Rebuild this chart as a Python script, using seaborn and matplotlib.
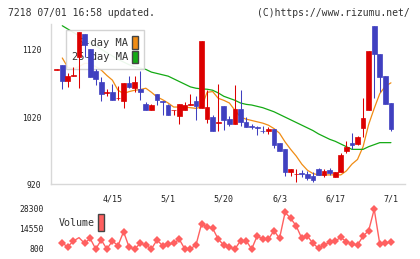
import numpy as np
import seaborn as sns
import matplotlib
matplotlib.use("Agg")
from matplotlib import pyplot as plt
from matplotlib.patches import Patch

# Dados do gráfico (61 pregões)
opens = [1090, 1098, 1074, 1081, 1110, 1144, 1122, 1088, 1073, 1056,
         1058, 1048, 1044, 1071, 1064, 1062, 1040, 1031, 1055, 1044,
         1038, 1030, 1022, 1030, 1038, 1044, 1033, 1017, 1020, 1011,
         1037, 1017, 1010, 1032, 1013, 1007, 1006, 1000, 999, 1003,
         982, 973, 939, 935, 937, 936, 932, 943, 934, 941,
         931, 939, 969, 981, 980, 1004, 1031, 1155, 1114, 1081, 1041]
highs = [1091, 1098, 1085, 1095, 1147, 1144, 1122, 1091, 1080, 1062,
         1069, 1066, 1071, 1081, 1081, 1088, 1043, 1039, 1055, 1044,
         1039, 1031, 1040, 1043, 1055, 1051, 1133, 1060, 1023, 1069,
         1037, 1021, 1068, 1060, 1020, 1010, 1007, 1007, 1005, 1003,
         982, 973, 943, 943, 941, 940, 938, 945, 943, 944,
         938, 966, 985, 997, 992, 1049, 1119, 1155, 1114, 1081, 1041]
lows = [1090, 1062, 1065, 1081, 1064, 1110, 1079, 1068, 1044, 1051,
        1045, 1046, 1034, 1063, 1057, 1046, 1031, 1031, 1038, 1023,
        1023, 1023, 1010, 1030, 1038, 1016, 1033, 1011, 1000, 1000,
        1001, 1007, 1010, 1007, 1005, 1002, 994, 997, 995, 974,
        970, 933, 933, 924, 931, 927, 924, 934, 931, 934,
        931, 939, 967, 972, 979, 991, 1031, 1049, 1058, 1039, 1000]
closes = [1091, 1074, 1081, 1082, 1147, 1127, 1079, 1077, 1055, 1058,
          1045, 1049, 1071, 1065, 1073, 1057, 1031, 1038, 1045, 1042,
          1023, 1031, 1040, 1038, 1039, 1037, 1133, 1035, 1000, 1012,
          1016, 1010, 1032, 1012, 1005, 1005, 1004, 999, 1003, 979,
          970, 939, 943, 936, 936, 929, 927, 934, 940, 937,
          938, 964, 975, 979, 991, 1019, 1118, 1114, 1080, 1039, 1002]

ma5 = [np.nan, 1108, 1094, 1092, 1095, 1100, 1100, 1095, 1090, 1082,
       1075, 1060, 1055, 1058, 1060, 1061, 1063, 1057, 1050, 1046,
       1041, 1035, 1035, 1035, 1034, 1033, 1035, 1057, 1058, 1048,
       1045, 1041, 1030, 1020, 1017, 1015, 1013, 1011, 1008, 1003,
       996, 983, 972, 962, 950, 941, 936, 934, 934, 934,
       934, 934, 940, 950, 957, 976, 1009, 1033, 1055, 1066, 1071]
ma25 = [np.nan, 1156, 1151, 1146, 1141, 1136, 1131, 1126, 1121, 1116,
        1111, 1106, 1102, 1098, 1095, 1093, 1091, 1087, 1085, 1083,
        1081, 1077, 1073, 1069, 1065, 1063, 1062, 1061.5, 1060, 1056,
        1051, 1048, 1045, 1041, 1039, 1038, 1036, 1034, 1031, 1028,
        1024, 1020, 1016, 1012, 1008, 1004, 1000, 995, 991, 987,
        984, 980, 976, 972, 972, 972, 976, 979, 982, 982, 982]

volume = [np.nan, 4700, 2400, 6300, 8600, 4700, 8100, 800, 7000, 800, 6300,
          3100, 12700, 2000, 800, 4700, 3500, 800, 7000, 3100, 4200,
          4700, 7500, 800, 1000, 3500, 18000, 16100, 15000, 7500, 3500,
          2000, 800, 6500, 6500, 800, 9900, 7500, 7500, 13400, 8100,
          26000, 21900, 16600, 8100, 9700, 4700, 1300, 3500, 5400, 6300,
          8800, 5800, 4200, 3500, 9700, 13400, 28100, 4200, 5100, 5400]

date_pos = [10, 20, 30, 40, 50, 60]
date_labels = ["4/15", "5/1", "5/20", "6/3", "6/17", "7/1"]
price_ticks = [920, 1020, 1120]
volume_ticks = [800, 14550, 28300]

# Cores
cor_alta = "#dc0000"
cor_baixa = "#4040c0"
cor_ma5 = "#f08c14"
cor_ma25 = "#14aa14"
cor_vol = "#ff6060"
cor_eixo = "#d8d8d8"
cor_texto = "#222222"

sns.set_style("white")
plt.rcParams['font.family'] = ['DejaVu Sans Mono']

W, H = 420, 259
fig = plt.figure(figsize=(W / 100, H / 100), dpi=100)
x0, x1 = 50.7, 405.3
ax = fig.add_axes([x0 / W, 1 - 184.3 / H, (x1 - x0) / W, (184.3 - 24) / H])
axv = fig.add_axes([x0 / W, 1 - 253 / H, (x1 - x0) / W, 48 / H])

x = np.arange(len(opens))
o = np.array(opens, dtype=float)
c = np.array(closes, dtype=float)
cores = [cor_alta if cc >= oo else cor_baixa for oo, cc in zip(o, c)]

# Candles
ax.vlines(x, lows, highs, colors=cores, linewidth=0.75, zorder=3)
ax.bar(x, np.abs(c - o), bottom=np.minimum(o, c), width=0.85, color=cores,
       edgecolor=cores, linewidth=0.5, zorder=3.5)

# Médias móveis
sns.lineplot(x=x, y=ma5, ax=ax, color=cor_ma5, linewidth=0.9, estimator=None, zorder=2)
sns.lineplot(x=x, y=ma25, ax=ax, color=cor_ma25, linewidth=0.9, estimator=None, zorder=2)

xlim = (-1.08, 62.58)
ax.set_xlim(*xlim)
ax.set_ylim(920, 1158.6)
for s in ["top", "right"]:
    ax.spines[s].set_visible(False)
for s in ["left", "bottom"]:
    ax.spines[s].set_color(cor_eixo)
    ax.spines[s].set_linewidth(1.0)

ax.set_yticks(price_ticks)
ax.set_yticklabels([str(t) for t in price_ticks])
ax.tick_params(axis="y", direction="inout", length=5.8, width=1.0, color=cor_eixo,
               labelsize=5.8, labelcolor=cor_texto, pad=4)
ax.set_xticks(date_pos)
ax.set_xticklabels(date_labels)
ax.set_xticks(np.linspace(xlim[0], xlim[1], 12), minor=True)
ax.tick_params(axis="x", which="major", length=0, labelsize=6, labelcolor=cor_texto, pad=7.5)
ax.tick_params(axis="x", which="minor", direction="inout", length=5.3, width=1.0,
               color=cor_eixo)
ax.set_xlabel("")
ax.set_ylabel("")

leg = ax.legend(handles=[Patch(facecolor=cor_ma5, edgecolor="#444444"),
                         Patch(facecolor=cor_ma25, edgecolor="#444444")],
                labels=["5-day MA", "25-day MA"], markerfirst=False,
                loc="upper left", bbox_to_anchor=((65.7 - x0) / (x1 - x0), 1 - 6 / 160.3),
                borderaxespad=0, fontsize=7.5, handlelength=0.6, handleheight=1.45,
                handletextpad=0.35, labelspacing=0.2, borderpad=0.6,
                fancybox=False, framealpha=0.92, edgecolor="#d0d0d0")
leg.get_frame().set_linewidth(1.0)
for t in leg.get_texts():
    t.set_color("#333333")
leg.set_zorder(2.5)

# Volume
vis = [i for i in range(len(volume) - 1) if i != 3]
sns.lineplot(x=x, y=volume, ax=axv, color=cor_vol, linewidth=1.0, estimator=None,
             marker="D", markersize=4.5, markeredgewidth=0, markevery=vis)
axv.set_xlim(*xlim)
axv.set_ylim(800 - 4 * 687.5, 28300 + 4 * 687.5)
for s in axv.spines.values():
    s.set_visible(False)
axv.set_xticks([])
axv.set_yticks(volume_ticks)
axv.set_yticklabels([str(t) for t in volume_ticks])
axv.tick_params(axis="y", length=0, labelsize=5.8, labelcolor=cor_texto, pad=5)
axv.set_xlabel("")
axv.set_ylabel("")
legv = axv.legend(handles=[Patch(facecolor=cor_vol, edgecolor="#444444")],
                  labels=["Volume"], markerfirst=False, frameon=False,
                  loc="center left", bbox_to_anchor=((58.3 - x0) / (x1 - x0), 1 - 17.5 / 48),
                  borderaxespad=0, borderpad=0, fontsize=7.2, handlelength=0.6,
                  handleheight=2.1, handletextpad=0.4)
for t in legv.get_texts():
    t.set_color("#333333")

# Cabeçalho
fig.text(8.3 / W, 1 - 13 / H, "7218 07/01 16:58 updated.", ha="left", va="center",
         fontsize=7, color="#333333")
fig.text(410 / W, 1 - 13 / H, "(C)https://www.rizumu.net/", ha="right", va="center",
         fontsize=7, color="#333333")

fig.savefig("out.png", dpi=100)
